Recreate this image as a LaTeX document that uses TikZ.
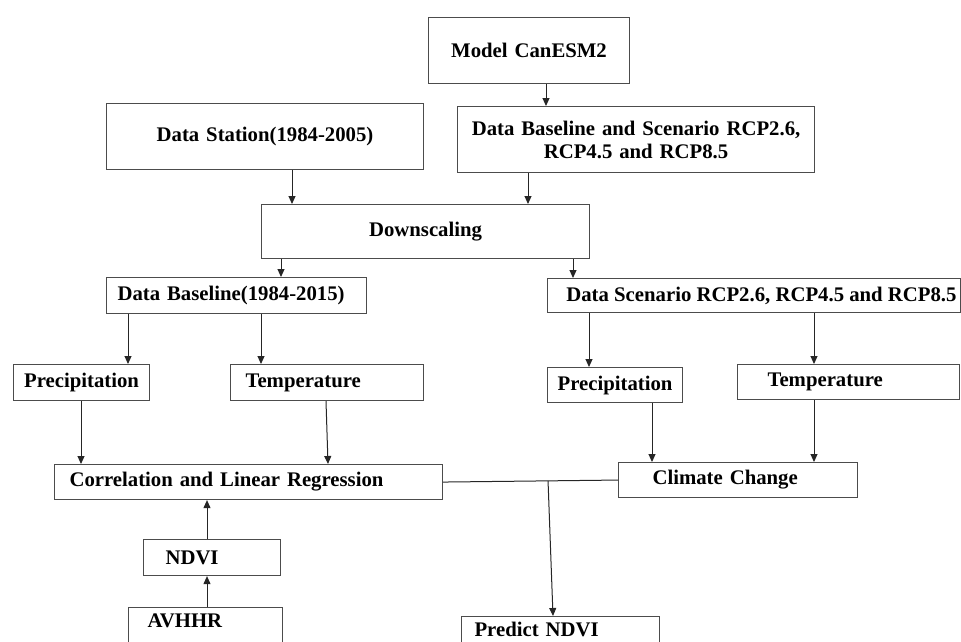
\documentclass[tikz,border=0pt]{standalone}
\usepackage{fontspec}
\setmainfont{Liberation Serif}
\usetikzlibrary{arrows.meta,calc}

\begin{document}
\begin{tikzpicture}[x=1pt,y=-1pt,font=\fontsize{20.75}{23}\selectfont\bfseries]
   \tikzstyle{box}=[draw=black!70, line width=1.1pt, anchor=north west, inner xsep=0pt, inner ysep=0pt, align=center]
   \tikzstyle{flow}=[draw=black!85, line width=1pt, -{Triangle[length=8pt,width=7pt]}]
   \path[use as bounding box, clip] (0,0) rectangle (961,641);
   \node[box, text width=201pt, minimum height=66pt] (model) at (428,17) {Model CanESM2};
   \node[box, text width=317pt, minimum height=66pt] (station) at (106,103) {Data Station(1984-2005)};
   \node[box, text width=357pt, minimum height=66pt] (basescen) at (457,106) {Data Baseline and Scenario RCP2.6,\\ RCP4.5 and RCP8.5};
   \node[box, text width=328pt, minimum height=54pt] (down) at (261,204) {Downscaling};
   \node[box, text width=238pt, inner xsep=11pt, align=left, minimum height=36pt] (base) at (106,277) {Data Baseline(1984-2015)};
   \node[box, text width=405pt, inner xsep=4pt, align=flush right, minimum height=34pt] (scen) at (547,278) {Data Scenario RCP2.6, RCP4.5 and RCP8.5};
   \node[box, text width=136pt, minimum height=36pt] (precip1) at (13,364) {Precipitation};
   \node[box, text width=163pt, inner xsep=15pt, align=left, minimum height=36pt] (temp1) at (230,364) {Temperature};
   \node[box, text width=135pt, minimum height=35pt] (precip2) at (547,367) {Precipitation};
   \node[box, text width=162pt, inner xsep=30pt, align=left, minimum height=35pt] (temp2) at (737,364) {Temperature};
   \node[box, text width=358pt, inner xsep=15pt, align=left, minimum height=35pt] (corr) at (54,464) {Correlation and Linear Regression};
   \node[box, text width=171pt, inner xsep=34pt, align=left, minimum height=35pt] (climate) at (618,462) {Climate Change};
   \node[box, text width=93pt, inner xsep=22pt, align=left, minimum height=36pt] (ndvi) at (143,539) {NDVI};
   \node[box, text width=116pt, inner xsep=19pt, align=left, text depth=12pt, minimum height=38pt] (avhhr) at (128,607) {AVHHR};
   \node[box, text width=172pt, inner xsep=13pt, align=left, text depth=11pt, minimum height=36pt] (predict) at (461,616) {Predict NDVI};
   \foreach \a/\b/\x in {model/basescen/546, station/down/292, basescen/down/528, down/base/281, down/scen/573,
                         base/precip1/128, base/temp1/261, scen/precip2/589, scen/temp2/814,
                         precip1/corr/81, precip2/climate/652, temp2/climate/814} {
       \draw[flow] (\a.south -| \x,0) -- (\b.north -| \x,0);
   }
   \draw[flow] (temp1.south -| 326,0) -- (corr.north -| 328,0);
   \foreach \a/\b in {avhhr/ndvi, ndvi/corr} {
       \draw[flow] (\a.north -| 207,0) -- (\b.south -| 207,0);
   }
   \coordinate (join) at ($(corr.east)!0.6!(climate.west)$);
   \draw[draw=black!85, line width=1pt] (corr.east) -- (join) -- (climate.west);
   \draw[flow] (join) -- (predict.north -| 553,0);
\end{tikzpicture}
\end{document}
